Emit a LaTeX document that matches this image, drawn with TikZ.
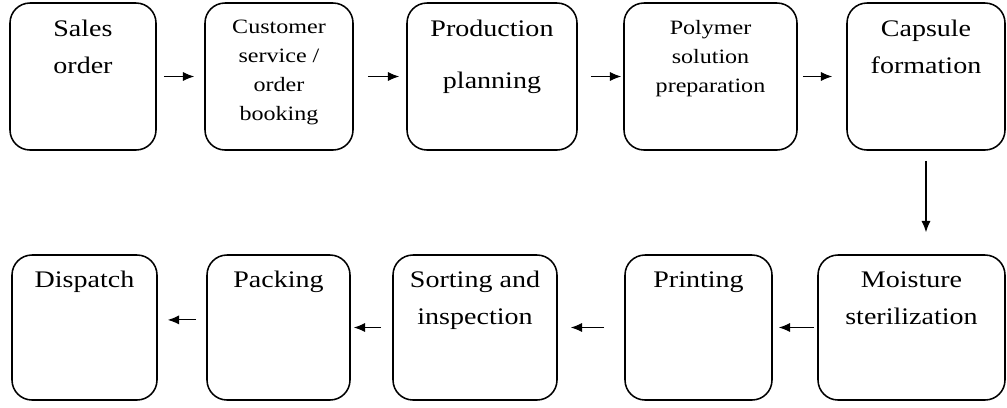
\documentclass[tikz,border=0pt]{standalone}
\usepackage{fontspec}
\setmainfont{Liberation Serif}[FakeStretch=1.18]
\usetikzlibrary{positioning, arrows.meta}

\begin{document}
\begin{tikzpicture}[>={Latex[length=8pt,width=6.5pt]},
  box/.style={draw, line width=1.1pt, rounded corners=0.5cm, inner sep=0pt},
  big/.style={align=center, inner sep=0pt, font=\fontsize{16.9}{26.3}\selectfont},
  small/.style={align=center, inner sep=0pt, font=\fontsize{14.5}{20.6}\selectfont}]
  \useasboundingbox (0,0) rectangle (25.175,-10.175);
  % top row
  \node (sales) at (2.075,-1.9125) [box, minimum width=3.65cm, minimum height=3.675cm] {};
  \node (custserv) at (6.975,-1.9125) [box, minimum width=3.7cm, minimum height=3.675cm] {};
  \node (prodplan) at (12.3,-1.9125) [box, minimum width=4.25cm, minimum height=3.675cm] {};
  \node (polymer) at (17.7625,-1.9125) [box, minimum width=4.325cm, minimum height=3.675cm] {};
  \node (capsule) at (23.15,-1.9125) [box, minimum width=3.95cm, minimum height=3.675cm] {};
  % bottom row
  \node (dispatch) at (2.1125,-8.1875) [box, minimum width=3.625cm, minimum height=3.625cm] {};
  \node (packing) at (6.9625,-8.1875) [box, minimum width=3.575cm, minimum height=3.625cm] {};
  \node (sorting) at (11.875,-8.1875) [box, minimum width=4.1cm, minimum height=3.625cm] {};
  \node (printing) at (17.4625,-8.1875) [box, minimum width=3.675cm, minimum height=3.625cm] {};
  \node (moisture) at (22.7875,-8.1875) [box, minimum width=4.675cm, minimum height=3.625cm] {};
  % labels
  \node (salestext) [below=0.44cm of sales.north, big] {Sales\\order};
  \node (custservtext) [below=0.44cm of custserv.north, small] {Customer\\service /\\order\\booking};
  \node (prodplantext) [below=0.44cm of prodplan.north, big] {Production\\[10.7pt]planning};
  \node (polymertext) [below=0.44cm of polymer.north, small] {Polymer\\solution\\preparation};
  \node (capsuletext) [below=0.44cm of capsule.north, big] {Capsule\\formation};
  \node (dispatchtext) [below=0.42cm of dispatch.north, big] {Dispatch};
  \node (packingtext) [below=0.42cm of packing.north, big] {Packing};
  \node (sortingtext) [below=0.42cm of sorting.north, big] {Sorting and\\inspection};
  \node (printingtext) [below=0.42cm of printing.north, big] {Printing};
  \node (moisturetext) [below=0.42cm of moisture.north, big] {Moisture\\sterilization};
  % arrows
  \draw [thick, ->, shorten <=0.175cm, shorten >=0.25cm] (sales) -- (custserv);
  \draw [thick, ->, shorten <=0.35cm, shorten >=0.175cm] (custserv) -- (prodplan);
  \draw [thick, ->, shorten <=0.325cm, shorten >=0.05cm] (prodplan) -- (polymer);
  \draw [thick, ->, shorten <=0.125cm, shorten >=0.35cm] (polymer) -- (capsule);
  \draw [thick, ->, shorten <=0.25cm, shorten >=0.55cm] (capsule.south) -- (capsule.south |- moisture.north);
  \draw [thick, ->, shorten <=0.075cm, shorten >=0.15cm] (moisture) -- (printing);
  \draw [thick, ->, shorten <=0.5cm, shorten >=0.325cm] (printing) -- (sorting);
  \draw [thick, ->, shorten <=0.275cm, shorten >=0.075cm] (sorting) -- (packing);
  \draw [thick, ->, shorten <=0.25cm, shorten >=0.25cm] ([yshift=0.19cm]packing.west) -- ([yshift=0.19cm]dispatch.east);
\end{tikzpicture}
\end{document}
